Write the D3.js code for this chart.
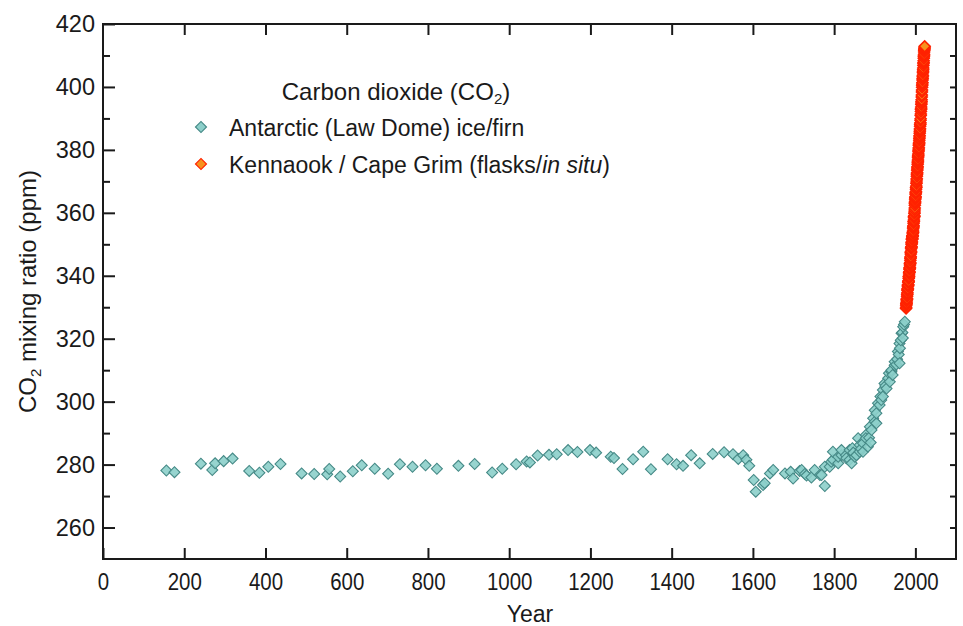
<!DOCTYPE html>
<html>
<head>
<meta charset="utf-8">
<script src="https://cdn.jsdelivr.net/npm/d3@7"></script>
<style>
  html, body { margin: 0; padding: 0; background: #fff; }
  svg text { font-family: "Liberation Sans", Arial, sans-serif; fill: #1a1a1a; }
</style>
</head>
<body>
<div id="chart"></div>
<script>
// Law Dome ice/firn CO2: [year, ppm]
const lawDome = [
  [156, 278.1], [176, 277.6], [241, 280.3], [269, 278.3], [276, 280.4], [297, 281.1], [319, 281.9],
  [360, 278.0], [385, 277.4], [407, 279.3], [437, 280.2], [489, 277.2], [520, 277.0], [552, 276.9],
  [557, 278.6], [584, 276.2], [615, 277.9], [637, 279.8], [669, 278.7], [702, 277.1], [731, 280.1],
  [762, 279.3], [794, 279.8], [822, 278.7], [875, 279.6], [915, 280.2], [958, 277.5], [983, 278.7],
  [1017, 280.1], [1043, 281.0], [1051, 280.7], [1070, 282.9], [1098, 283.1], [1117, 283.3],
  [1145, 284.6], [1168, 284.0], [1199, 284.6], [1214, 283.8], [1250, 282.5], [1258, 282.1],
  [1279, 278.6], [1305, 281.7], [1330, 284.1], [1349, 278.5], [1390, 281.7], [1412, 280.1],
  [1428, 279.6], [1448, 283.0], [1469, 280.4], [1501, 283.4], [1529, 283.9], [1551, 283.3],
  [1564, 281.8], [1576, 283.0], [1584, 281.5], [1591, 279.6], [1602, 275.1], [1607, 271.4],
  [1625, 273.5], [1629, 274.1], [1642, 277.2], [1650, 278.3], [1679, 277.2], [1693, 277.7],
  [1699, 275.6], [1715, 278.0], [1720, 278.3], [1728, 277.0], [1732, 276.5], [1744, 275.9],
  [1752, 278.3], [1765, 276.7], [1769, 276.7], [1777, 273.2], [1777, 279.3], [1789, 279.3],
  [1793, 280.9], [1797, 281.5], [1797, 284.1], [1810, 280.4], [1810, 282.5], [1818, 283.0],
  [1818, 284.6], [1829, 283.0], [1830, 282.0], [1838, 281.5], [1838, 284.6], [1843, 280.4],
  [1845, 285.2], [1847, 283.8], [1851, 282.5], [1855, 283.0], [1859, 288.4], [1863, 284.1],
  [1863, 286.2], [1866, 285.0], [1871, 286.8], [1871, 284.1], [1878, 289.4], [1878, 288.4],
  [1883, 285.7], [1886, 288.5], [1888, 292.0], [1890, 287.0], [1892, 291.0], [1896, 294.7],
  [1900, 297.3], [1900, 293.6], [1904, 293.1], [1904, 296.3], [1908, 299.5], [1912, 298.9],
  [1914, 301.6], [1916, 300.5], [1920, 303.7], [1920, 301.6], [1924, 305.8], [1926, 305.0],
  [1929, 304.2], [1933, 307.4], [1935, 309.0], [1937, 306.3], [1941, 309.5], [1941, 310.0],
  [1944, 308.5], [1949, 311.6], [1949, 312.7], [1953, 311.8], [1955, 313.5], [1957, 315.9],
  [1959, 315.0], [1961, 312.2], [1961, 318.5], [1962, 317.0], [1964, 319.5], [1966, 321.7],
  [1968, 322.0], [1969, 320.2], [1970, 323.8], [1972, 324.5], [1974, 325.4]
];

// Kennaook / Cape Grim CO2, quarterly means (ppm), one row per year from 1977
const capeGrimFirstYear = 1977;
const capeGrimQuarters = [
  [329.6, 330.0, 330.6, 331.1], [331.0, 331.4, 332.0, 332.5],
  [332.4, 332.8, 333.5, 334.0], [334.2, 334.6, 335.3, 335.8], [335.6, 336.0, 336.7, 337.1],
  [336.9, 337.2, 337.9, 338.3], [338.0, 338.3, 339.1, 339.7], [339.6, 339.9, 340.6, 341.1],
  [341.0, 341.3, 342.0, 342.5], [342.4, 342.7, 343.4, 343.9], [343.8, 344.2, 344.9, 345.5],
  [345.7, 346.1, 346.9, 347.5], [347.5, 347.8, 348.6, 349.1], [348.9, 349.3, 350.0, 350.5],
  [350.4, 350.8, 351.5, 351.9], [351.6, 351.9, 352.5, 352.8], [352.5, 352.8, 353.4, 353.8],
  [353.8, 354.2, 354.9, 355.4], [355.6, 356.0, 356.7, 357.2], [357.3, 357.7, 358.4, 358.8],
  [358.8, 359.1, 359.8, 360.3], [360.9, 361.5, 362.4, 363.0], [363.3, 363.7, 364.3, 364.7],
  [364.8, 365.2, 365.9, 366.3], [366.4, 366.8, 367.5, 368.0], [368.1, 368.5, 369.3, 369.8],
  [370.4, 370.8, 371.6, 372.1], [372.4, 372.8, 373.5, 373.9], [374.3, 374.7, 375.4, 375.9],
  [376.4, 376.8, 377.5, 378.0], [378.3, 378.7, 379.4, 379.9], [380.3, 380.7, 381.4, 381.8],
  [382.0, 382.4, 383.1, 383.6], [384.1, 384.6, 385.3, 385.8], [386.3, 386.7, 387.5, 388.0],
  [388.2, 388.6, 389.4, 389.9], [390.9, 391.4, 392.2, 392.8], [393.1, 393.6, 394.4, 394.9],
  [395.4, 395.9, 396.8, 397.4], [398.4, 399.0, 399.9, 400.5], [400.9, 401.4, 402.2, 402.7],
  [403.2, 403.7, 404.5, 405.0], [405.5, 406.0, 406.8, 407.4], [407.8, 408.3, 409.1, 409.6],
  [409.9, 410.4, 411.1, 411.6], [411.9, 412.2, 412.6, 412.9]
];

const xTicks = [0, 200, 400, 600, 800, 1000, 1200, 1400, 1600, 1800, 2000];
const yTicks = [260, 280, 300, 320, 340, 360, 380, 400, 420];
const yMinorTicks = [270, 290, 310, 330, 350, 370, 390, 410];
const yRightTicks = [260, 270, 280, 290, 300, 310, 320, 330, 340, 350, 360, 370, 380, 390, 400, 410];
const legendTitle = "Carbon dioxide (CO";
const seriesNames = ["Antarctic (Law Dome) ice/firn", "Kennaook / Cape Grim (flasks/"];

const W = 963, H = 626;
const margin = { top: 24, right: 7, bottom: 67, left: 103 };

const svg = d3.select("#chart").append("svg")
  .attr("width", W).attr("height", H)
  .style("background", "#fff");

const x = d3.scaleLinear().domain([0, 2100]).range([margin.left, W - margin.right]);
const y = d3.scaleLinear().domain([250, 420]).range([H - margin.bottom, margin.top]);

const diamond = d3.symbol().type(d3.symbolSquare).size(60);
const cyanFill = "#8ccfca", cyanStroke = "#468a87";
const orangeFill = "#f7921e", redStroke = "#ff2200";

// Law Dome markers
svg.append("g").selectAll("path")
  .data(lawDome)
  .enter().append("path")
  .attr("d", diamond)
  .attr("transform", d => `translate(${x(d[0])},${y(d[1])}) rotate(45)`)
  .attr("fill", cyanFill)
  .attr("fill-opacity", 0.9)
  .attr("stroke", cyanStroke)
  .attr("stroke-width", 1.1);

// Cape Grim markers (quarterly)
const capeGrim = [];
capeGrimQuarters.forEach((row, i) => {
  row.forEach((v, q) => capeGrim.push([capeGrimFirstYear + i + (q + 0.5) / 4, v]));
});

svg.append("g").selectAll("path")
  .data(capeGrim)
  .enter().append("path")
  .attr("d", diamond)
  .attr("transform", d => `translate(${x(d[0])},${y(d[1])}) rotate(45)`)
  .attr("fill", orangeFill)
  .attr("stroke", redStroke)
  .attr("stroke-width", 1.6);

// Axes: ticks point inward
const bottom = svg.append("g")
  .attr("transform", `translate(0,${y(250)})`)
  .call(d3.axisBottom(x).tickValues(xTicks).tickFormat(d3.format("d"))
    .tickSizeInner(-11).tickSizeOuter(0).tickPadding(14));
bottom.selectAll("text")
  .style("font-size", "23.5px")
  .attr("transform", "scale(0.87,1)");

const left = svg.append("g")
  .attr("transform", `translate(${x(0)},0)`)
  .call(d3.axisLeft(y).tickValues(yTicks).tickSizeInner(-12).tickSizeOuter(0).tickPadding(8));
left.selectAll("text").style("font-size", "23.5px");

svg.append("g")
  .attr("transform", `translate(${x(0)},0)`)
  .call(d3.axisLeft(y).tickValues(yMinorTicks).tickSizeInner(-7).tickSizeOuter(0).tickFormat(""));

svg.append("g")
  .attr("transform", `translate(0,${y(420)})`)
  .call(d3.axisTop(x).tickValues(xTicks.slice(1)).tickSizeInner(-11).tickSizeOuter(0).tickFormat(""));

svg.append("g")
  .attr("transform", `translate(${x(2100)},0)`)
  .call(d3.axisRight(y).tickValues(yRightTicks).tickSizeInner(-6).tickSizeOuter(0).tickFormat(""));

svg.selectAll(".domain").remove();
svg.selectAll(".tick line").attr("stroke", "#1a1a1a").attr("stroke-width", 2);

// frame
svg.append("rect")
  .attr("x", x(0)).attr("y", y(420))
  .attr("width", x(2100) - x(0)).attr("height", y(250) - y(420))
  .attr("fill", "none").attr("stroke", "#1a1a1a").attr("stroke-width", 2);

// axis titles
svg.append("text")
  .attr("x", 530).attr("y", 622)
  .attr("text-anchor", "middle")
  .style("font-size", "23px")
  .text("Year");

const yTitle = svg.append("text")
  .attr("transform", `translate(36,${(y(250) + y(420)) / 2}) rotate(-90)`)
  .attr("text-anchor", "middle")
  .style("font-size", "24px");
yTitle.append("tspan").text("CO");
yTitle.append("tspan").attr("dy", 5).style("font-size", "15px").text("2");
yTitle.append("tspan").attr("dy", -5).text(" mixing ratio (ppm)");

// legend
const title = svg.append("text")
  .attr("x", 396).attr("y", 100)
  .attr("text-anchor", "middle")
  .style("font-size", "24px");
title.append("tspan").text(legendTitle);
title.append("tspan").attr("dy", 4).style("font-size", "15px").text("2");
title.append("tspan").attr("dy", -4).text(")");

const legend = svg.append("g").attr("transform", "translate(201,127)");
const rows = [
  { name: seriesNames[0], fill: cyanFill, stroke: cyanStroke, italic: null },
  { name: seriesNames[1], fill: orangeFill, stroke: redStroke, italic: "in situ" }
];
rows.forEach((r, i) => {
  const row = legend.append("g").attr("transform", `translate(0,${i * 37})`);
  row.append("path")
    .attr("d", diamond)
    .attr("transform", "rotate(45)")
    .attr("fill", r.fill)
    .attr("stroke", r.stroke)
    .attr("stroke-width", 1.2);
  const t = row.append("text").attr("x", 28).attr("y", 9).style("font-size", "23px");
  t.append("tspan").text(r.name);
  if (r.italic) {
    t.append("tspan").style("font-style", "italic").text(r.italic);
    t.append("tspan").text(")");
  }
});
</script>
</body>
</html>
